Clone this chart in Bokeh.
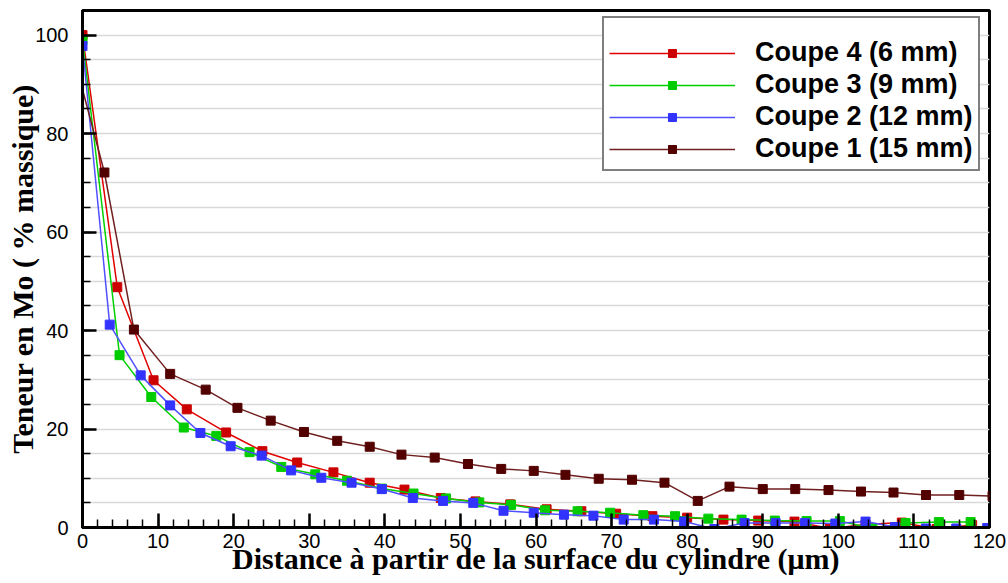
from bokeh.plotting import figure
from bokeh.models import Legend, LegendItem, SingleIntervalTicker, Range1d
from bokeh.embed import file_html
from bokeh.resources import INLINE

# ---- data ----
x_c4 = [0, 4.6, 9.4, 13.8, 19.0, 23.8, 28.4, 33.2, 38.0, 42.6, 47.4, 52.0, 56.6, 61.4, 66.0,
        70.6, 75.4, 80.0, 84.8, 89.4, 94.2, 98.9, 103.6, 108.4, 113.0, 117.7]
y_c4 = [100, 48.8, 29.9, 24.0, 19.3, 15.5, 13.2, 11.2, 9.1, 7.7, 6.0, 5.3, 4.7, 3.7, 3.3,
        2.8, 2.3, 2.0, 1.6, 1.4, 1.2, -0.2, 0.6, 1.0, -0.3, 0.5]

x_c3 = [0, 4.9, 9.1, 13.4, 17.7, 22.1, 26.3, 30.8, 35.0, 39.6, 43.8, 48.1, 52.5, 56.7, 61.2,
        65.5, 69.8, 74.2, 78.4, 82.8, 87.2, 91.6, 95.8, 100.2, 104.5, 108.9, 113.3, 117.5]
y_c3 = [99.0, 35.0, 26.5, 20.3, 18.6, 15.3, 12.3, 10.8, 9.5, 7.9, 6.9, 5.9, 5.1, 4.6, 3.5,
        3.3, 3.0, 2.5, 2.3, 1.8, 1.6, 1.4, 1.3, 1.3, -0.2, 0.9, 1.1, 1.1]

x_c2 = [0, 3.6, 7.7, 11.6, 15.6, 19.6, 23.7, 27.6, 31.6, 35.6, 39.6, 43.7, 47.7, 51.7, 55.7,
        59.7, 63.7, 67.6, 71.6, 75.6, 79.6, 83.6, 87.6, 91.7, 95.6, 99.6, 103.6, 107.5, 111.6,
        115.6, 119.7]
y_c2 = [97.8, 41.2, 30.9, 24.8, 19.2, 16.5, 14.6, 11.6, 10.1, 9.1, 7.8, 6.0, 5.4, 5.0, 3.4,
        3.0, 2.6, 2.4, 1.6, 1.6, 1.2, -0.3, 0.9, 0.9, 0.9, 0.8, 1.2, 0.1, -0.2, -0.2, -0.1]

x_c1 = [-1.5, 2.9, 6.8, 11.6, 16.3, 20.5, 24.9, 29.3, 33.7, 38.0, 42.2, 46.6, 51.0, 55.4, 59.7,
        63.9, 68.3, 72.7, 77.0, 81.4, 85.6, 90.0, 94.3, 98.7, 103.0, 107.3, 111.6, 116.0, 120.4]
y_c1 = [97.7, 72.1, 40.2, 31.2, 28.0, 24.3, 21.7, 19.4, 17.6, 16.4, 14.8, 14.2, 12.9, 11.9, 11.5,
        10.7, 9.9, 9.7, 9.1, 5.4, 8.3, 7.8, 7.8, 7.6, 7.3, 7.1, 6.6, 6.6, 6.4]

labels = ["Coupe 4 (6 mm)", "Coupe 3 (9 mm)", "Coupe 2 (12 mm)", "Coupe 1 (15 mm)"]
marker_colors = ["#cc0000", "#00cc00", "#3333ff", "#520000"]
line_colors = ["#e00000", "#00d000", "#5050ff", "#702020"]
series = [(x_c4, y_c4), (x_c3, y_c3), (x_c2, y_c2), (x_c1, y_c1)]

p = figure(width=1008, height=583, output_backend="svg", toolbar_location=None,
           title=None, x_range=Range1d(0, 120), y_range=Range1d(0, 105),
           min_border_left=82, min_border_right=19, min_border_top=10, min_border_bottom=56,
           background_fill_color="white", border_fill_color="white")

p.outline_line_color = "black"
p.outline_line_width = 3
p.outline_line_alpha = 1

# grid
p.xgrid.visible = False
p.ygrid.ticker = SingleIntervalTicker(interval=5)
p.ygrid.grid_line_color = "#d9d9d9"
p.ygrid.grid_line_width = 1.6

# axes
p.xaxis.ticker = SingleIntervalTicker(interval=10, num_minor_ticks=5)
p.yaxis.ticker = SingleIntervalTicker(interval=20, num_minor_ticks=4)
for ax in (p.xaxis, p.yaxis):
    ax.axis_line_width = 3
    ax.axis_line_color = "black"
    ax.major_tick_in = 14
    ax.major_tick_out = 0
    ax.minor_tick_in = 8
    ax.minor_tick_out = 0
    ax.major_tick_line_width = 2.5
    ax.minor_tick_line_width = 1.5
    ax.major_tick_line_color = "black"
    ax.minor_tick_line_color = "black"
    ax.major_label_text_font = "Liberation Sans"
    ax.major_label_text_font_size = "20px"
    ax.major_label_text_color = "black"
    ax.axis_label_text_font = "Liberation Serif"
    ax.axis_label_text_font_style = "bold"
    ax.axis_label_text_font_size = "30px"
    ax.axis_label_text_color = "black"

p.xaxis.axis_label = "Distance à partir de la surface du cylindre (μm)"
p.yaxis.axis_label = "Teneur en Mo ( % massique)"
p.xaxis.major_label_standoff = 6
p.xaxis.axis_label_standoff = -9
p.yaxis.major_label_standoff = 14
p.yaxis.axis_label_standoff = -7

items = []
for (xs, ys), lab, mc, lc in zip(series, labels, marker_colors, line_colors):
    l = p.line(xs, ys, line_color=lc, line_width=1.5)
    s = p.scatter(xs, ys, marker="square", size=9, fill_color=mc, line_color=mc)
    items.append(LegendItem(label=lab, renderers=[l, s]))

legend = Legend(items=items, location=(520, 356))
legend.title = " "
legend.title_text_font_size = "8px"
legend.title_standoff = 5
legend.padding = 5
legend.margin = 0
legend.spacing = 1
legend.glyph_width = 126
legend.glyph_height = 20
legend.label_height = 20
legend.label_width = 217
legend.label_standoff = 20
legend.label_text_font = "Liberation Sans"
legend.label_text_font_style = "bold"
legend.label_text_font_size = "27px"
legend.label_text_color = "black"
legend.border_line_color = "black"
legend.border_line_width = 2
legend.background_fill_color = "white"
legend.background_fill_alpha = 1
p.add_layout(legend)

open("out.html", "w").write(file_html(p, INLINE))
